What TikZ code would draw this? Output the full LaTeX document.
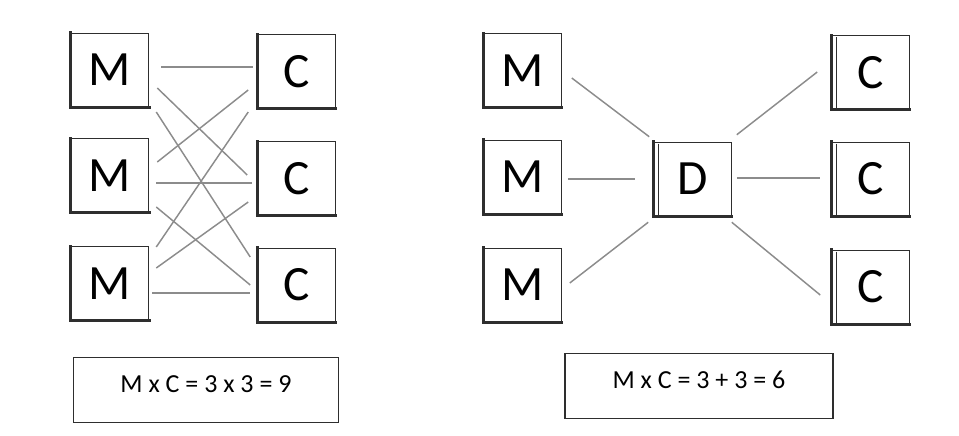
\documentclass[tikz,border=0pt]{standalone}
\usepackage{fontspec}
\setmainfont{Carlito}
\definecolor{linkgray}{HTML}{8C8C8C}
\definecolor{edgegray}{HTML}{2E2E2E}
\tikzset{
  box/.style={draw=edgegray, line width=0.9pt, minimum width=58pt, minimum height=55pt,
    inner sep=0pt, font=\fontsize{37}{37}\selectfont},
  shade/.style={edgegray, line width=2.2pt, line cap=rect},
  link/.style={linkgray, line width=1.1pt},
  formula/.style={draw=edgegray, line width=0.9pt, inner xsep=0pt, inner ysep=0pt,
    text height=26pt, text depth=23pt, font=\fontsize{19.5}{19.5}\selectfont}
}
\begin{document}
\begin{tikzpicture}[x=0.75pt,y=-0.75pt]
    \useasboundingbox (0,0) rectangle (959,435);
    % mesh: every M talks to every C
    \node[box] (ma) at (110,70) {M};
    \node[box] (mb) at (110,175.5) {M};
    \node[box] (mc) at (110,283.5) {M};
    \node[box] (ca) at (296.5,71.5) {C};
    \node[box] (cb) at (296.5,178.5) {C};
    \node[box] (cc) at (296.5,285) {C};
    \foreach \n in {ma,mb,mc,ca,cb,cc}
        \draw[shade] (\n.north west) -- (\n.south west) -- (\n.south east);
    \draw[link] ([shift={(12,-3)}]ma.east) -- ([shift={(-4,-4.5)}]ca.west);
    \draw[link] ([shift={(8,18)}]ma.east) -- ([shift={(-10,-3.5)}]cb.west);
    \draw[link] ([shift={(7,42)}]ma.east) -- ([shift={(-7,-28)}]cc.west);
    \draw[link] ([shift={(8,-13.5)}]mb.east) -- ([shift={(-9,18.5)}]ca.west);
    \draw[link] ([shift={(7,7.5)}]mb.east) -- ([shift={(-5,4.5)}]cb.west);
    \draw[link] ([shift={(7,31.5)}]mb.east) -- ([shift={(-7,0)}]cc.west);
    \draw[link] ([shift={(7,-36.5)}]mc.east) -- ([shift={(-9,40.5)}]ca.west);
    \draw[link] ([shift={(7,-15.5)}]mc.east) -- ([shift={(-9,23.5)}]cb.west);
    \draw[link] ([shift={(3,9.5)}]mc.east) -- ([shift={(-7,8)}]cc.west);
    \node[formula, minimum width=199pt] (sumleft) at (206,390) {M x C = 3 x 3 = 9};
    % mediator in the middle
    \node[box] (md) at (522.5,70.5) {M};
    \node[box] (me) at (522.5,177) {M};
    \node[box] (mf) at (522.5,285) {M};
    \node[box] (dd) at (692.5,179) {D};
    \node[box] (cd) at (870.5,72.5) {C};
    \node[box] (ce) at (870.5,179) {C};
    \node[box] (cf) at (870.5,287) {C};
    \foreach \n in {md,me,mf}
        \draw[shade] (\n.north west) -- (\n.south west) -- (\n.south east);
    \foreach \n in {dd,cd,ce,cf} {
        \draw[shade] (\n.north west) -- (\n.south west) -- (\n.south east);
        \draw[edgegray, line width=0.9pt] ([shift={(5,2)}]\n.north west) -- ([shift={(5,0)}]\n.south west);
    }
    \draw[link] ([shift={(10,7.5)}]md.east) -- ([shift={(-4,-5)}]dd.north west);
    \draw[link] ([shift={(6,2)}]me.east) -- ([shift={(-18,0)}]dd.west);
    \draw[link] ([shift={(8,-2)}]mf.east) -- ([shift={(-5,6)}]dd.south west);
    \draw[link] ([shift={(5,-7)}]dd.north east) -- ([shift={(-14,-0.5)}]cd.west);
    \draw[link] ([shift={(5,-1)}]dd.east) -- ([shift={(-11,-1)}]ce.west);
    \draw[link] ([shift={(0,6)}]dd.south east) -- ([shift={(-11,8)}]cf.west);
    \node[formula, minimum width=201pt] (sumright) at (699,386) {M x C = 3 + 3 = 6};
\end{tikzpicture}
\end{document}
